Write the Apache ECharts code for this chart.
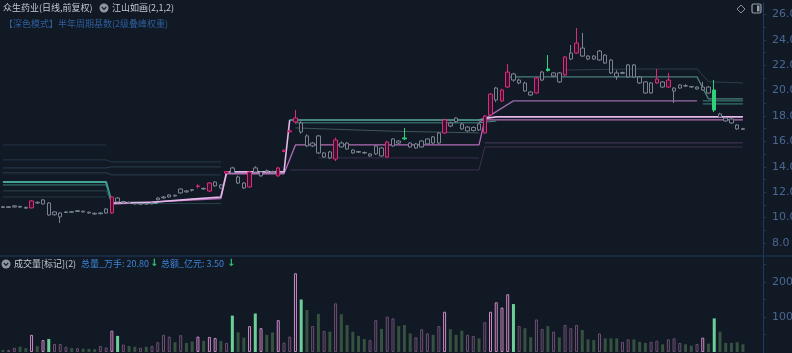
<!DOCTYPE html>
<html><head><meta charset="utf-8">
<script src="https://cdn.jsdelivr.net/npm/echarts@6/dist/echarts.min.js"></script>
<style>html,body{margin:0;padding:0;background:#111925;}#c{width:792px;height:353px;}</style>
</head><body><div id="c"></div>
<script>
// ---------- DATA ----------
const openP = [10.85,10.80,10.83,10.88,10.80,10.76,11.20,11.07,11.15,10.22,
10.05,10.40,10.46,10.48,10.50,10.42,10.34,10.30,10.36,10.36,
11.54,11.20,11.20,11.10,11.05,11.10,11.08,11.40,11.55,11.62,
11.76,11.94,12.10,12.20,12.45,12.30,12.09,12.49,12.57,13.50,
13.91,13.20,12.72,12.41,13.91,13.28,13.70,13.62,13.28,15.20,
16.75,17.53,17.45,16.43,15.64,16.43,14.77,15.17,14.61,15.87,
15.87,15.32,15.20,15.12,14.85,15.01,15.48,14.77,15.64,16.03,
16.27,15.87,15.48,15.56,15.80,16.35,15.87,16.66,17.45,17.84,
17.37,16.82,16.85,17.37,16.66,18.08,19.26,19.18,20.28,21.31,
20.60,20.60,19.89,19.81,20.83,21.70,21.15,21.39,21.23,22.49,
22.96,23.35,22.72,22.72,22.41,22.80,22.41,21.39,21.36,21.07,
22.02,21.07,20.68,19.81,20.60,20.68,20.28,19.97,20.20,20.38,
20.32,20.13,20.05,20.28,20.05,18.16,17.84,17.76,17.29,17.00];
const closeP = [10.80,10.85,10.92,10.82,10.74,11.31,11.15,11.39,10.20,10.44,
10.36,10.44,10.42,10.54,10.44,10.36,10.28,10.36,10.68,11.62,
11.23,11.26,11.15,11.07,11.09,11.06,11.15,11.54,11.62,11.78,
11.70,12.25,12.02,12.15,12.49,12.25,12.72,12.80,12.33,13.62,
13.51,12.72,12.33,13.59,13.59,13.59,13.62,13.56,13.91,15.30,
16.83,17.84,16.74,15.64,15.87,15.09,15.09,14.69,16.11,15.56,
15.40,15.09,15.15,15.09,15.01,15.64,14.85,15.95,16.19,15.87,
16.20,15.56,15.80,16.03,16.19,15.87,16.66,17.69,17.21,17.55,
16.98,17.13,17.10,16.90,18.00,19.73,20.20,20.05,21.46,20.83,
20.83,19.97,19.65,20.99,21.46,21.58,21.39,20.68,22.65,22.96,
23.75,22.72,22.49,22.49,23.12,22.17,21.39,21.10,21.42,22.02,
21.07,20.60,19.81,20.60,20.91,20.28,20.83,20.20,20.44,20.36,
20.28,20.28,20.28,19.81,18.47,17.92,17.61,17.45,16.98,16.95];
const lowP = [10.75,10.75,10.78,10.76,10.70,10.72,11.08,11.02,10.15,10.15,
9.57,10.36,10.38,10.44,10.40,10.32,10.22,10.26,10.32,10.30,
11.18,11.15,11.10,11.02,11.00,11.02,11.04,11.35,11.48,11.58,
11.64,11.88,11.96,12.05,12.30,12.18,12.02,12.44,12.28,13.45,
13.40,12.65,12.25,12.35,13.50,13.22,13.55,13.48,13.22,15.15,
16.70,17.40,16.60,15.55,15.55,15.00,14.70,14.60,14.45,15.50,
15.35,15.02,15.08,15.00,14.80,14.95,14.80,14.70,15.58,15.80,
16.10,15.50,15.42,15.50,15.75,15.80,15.80,16.60,17.12,17.45,
16.90,16.75,16.78,16.82,16.60,18.00,19.10,19.10,20.20,20.70,
20.50,19.90,19.58,19.75,20.75,21.50,21.08,20.60,21.15,22.40,
22.90,22.65,22.40,22.42,22.35,22.10,21.30,20.85,21.30,21.00,
21.00,20.52,19.75,19.75,20.55,20.22,20.22,19.02,20.15,20.30,
20.22,20.08,20.00,19.75,18.31,17.85,17.55,17.40,16.92,16.90];
const highP = [10.92,10.90,10.98,10.92,10.86,11.38,11.28,11.45,11.22,10.48,
10.42,10.50,10.50,10.58,10.54,10.46,10.38,10.40,10.72,11.66,
11.60,11.32,11.25,11.15,11.14,11.14,11.20,11.60,11.70,11.84,
11.80,12.30,12.14,12.22,12.62,12.36,12.80,12.86,12.62,13.62,
14.00,13.30,12.80,13.65,14.05,13.65,13.78,13.70,13.98,15.35,
16.85,18.47,17.60,16.55,15.95,16.50,15.15,15.25,16.30,16.00,
15.95,15.38,15.25,15.20,15.06,15.70,15.55,16.05,16.25,16.10,
17.06,15.95,15.86,16.10,16.25,16.42,16.72,17.80,17.55,17.90,
17.45,17.20,17.18,17.45,18.08,19.80,20.30,20.15,22.09,21.40,
20.95,20.70,19.95,21.05,21.55,22.80,21.45,21.45,22.72,23.59,
24.93,24.54,22.80,22.80,23.20,22.88,22.50,21.60,21.50,22.10,
22.10,21.15,20.75,20.68,21.70,20.75,21.39,20.26,20.50,20.50,
20.36,20.34,20.70,20.35,20.83,18.25,17.90,17.82,17.35,17.06];
// candle marks: n normal, p pink (marked), g green (marked)
const candleKind = ('nnnnnpnnnn'+'nnnnnnnnnp'+'nnnnnnnnnn'+'nnnnpnpnnp'+'nnnpnnnnpp'+
  'ppnnnnnnpn'+'nnnnnnnpnn'+'gnnnnnnpnn'+'nnnnppnppn'+'nnnpngnnpn'+
  'pnnnnnnnnn'+'nnnnpnpnnn'+'nnnngnnnnn').split('');
const volumes = [6,6,12,15,11,49,17,34,37,23,
23,15,11,11,9,9,8,17,13,61,
46,21,17,15,12,15,17,28,49,44,
28,48,26,30,44,32,43,40,32,26,
104,56,41,74,110,68,49,56,91,27,
44,225,150,120,74,109,60,58,139,108,
77,58,46,37,34,91,66,101,96,74,
77,53,42,65,53,49,74,115,65,49,
61,49,46,39,85,115,142,127,165,137,
74,68,42,93,66,74,58,42,77,68,
77,63,36,34,53,39,39,39,29,36,
36,29,26,29,32,22,36,39,26,22,
18,23,41,24,96,58,26,26,28,22];
// volume marks: G bright green, P bright pink outline, n by candle direction
const volKind = ('nnnnnPnPGn'+'nnnnnnnnnP'+'Gnnnnnnnnn'+'nnnnPnPPnn'+'GnnPGPnnPn'+
  'nPGnnnnnnn'+'nnnnnnnnnn'+'nnnnnnnPnn'+'nnnnnPPPPG'+'nnnnnnnnnn'+
  'nnnnnnnnnn'+'nnnnnnnnnn'+'nnPnGnnnnn').split('');
const priceTicks = [8,10,12,14,16,18,20,22,24,26];
const volTicks = [100,200];

// indicator lines: [candle index, price]
const tealA   = [[0,12.80],[18,12.80],[19,11.15],[27,11.15]];
const tealB   = [[0,12.57],[18,12.57],[19,11.20],[27,11.20]];
const dimL1   = [[0,15.72],[18,15.72]];
const dimL2   = [[0,14.54],[18,14.54],[19,14.38],[38,14.38]];
const dimL3   = [[0,13.91],[18,13.91],[19,13.99],[38,13.99]];
const dimL4   = [[0,13.52],[18,13.52],[19,13.36],[38,13.36]];
const dimL5   = [[0,12.10],[18,12.10],[19,11.10],[38,11.10]];
const dimL6   = [[0,11.62],[18,11.62]];
const mainLine= [[19,11.15],[26,11.20],[33,11.45],[38,11.62],[39,13.60],[49,13.60],[50,17.69]];
const tealMid = [[50,17.69],[83,17.69],[85,17.93]];
const mainRight=[[84,17.80],[86,17.93],[129,17.93]];
const pinkB   = [[19,11.05],[38,11.50],[39,13.45],[49,13.45],[51,15.72],[83,15.72],[84,17.69],[129,17.69]];
const tealC   = [[51,17.46],[83,17.46],[86,17.60]];
const greyS   = [[51,17.06],[68,16.80],[83,16.67]];
const dimP1   = [[55,14.70],[83,14.70]];
const dimP2   = [[50,13.75],[83,13.75],[84,15.56],[129,15.56]];
const dimP3   = [[84,15.88],[129,15.88]];
const lilac   = [[83,17.50],[89,19.19],[121,19.19]];
const tealTop = [[88,21.08],[121,21.08],[123,19.35],[129,19.35]];
const tealR1  = [[122,19.19],[129,19.19]];
const tealR2  = [[122,18.95],[129,18.95]];
const faintTop= [[98,21.62],[110,21.70],[121,21.70],[123,20.70],[129,20.60]];

// ---------- CHART ----------
const BG = '#111925';
const SLOTS = 133;
const cats = Array.from({length: SLOTS}, (_, i) => i);
const chart = echarts.init(document.getElementById('c'), null, {width: 792, height: 353});

const candleData = openP.map((o, i) => {
  const k = candleKind[i];
  let s;
  if (k === 'p') s = {color: '#3a1230', color0: '#3a1230', borderColor: '#dc2a7c', borderColor0: '#dc2a7c'};
  else if (k === 'g') s = {color: '#2fd17a', color0: '#2fd17a', borderColor: '#2fd17a', borderColor0: '#2fd17a'};
  else s = {color: BG, color0: '#59616f', borderColor: '#7a8290', borderColor0: '#59616f'};
  return {value: [o, closeP[i], lowP[i], highP[i]], itemStyle: s};
});
const volData = volumes.map((v, i) => {
  const k = volKind[i];
  let s;
  if (k === 'G') s = {color: '#6ccf98', borderColor: '#6ccf98', borderWidth: 0};
  else if (k === 'P') s = {color: '#1c1626', borderColor: '#c98ac4', borderWidth: 1};
  else if (closeP[i] >= openP[i]) s = {color: '#141a26', borderColor: '#6e4f72', borderWidth: 1};
  else s = {color: '#35513f', borderColor: '#35513f', borderWidth: 0};
  return {value: v, itemStyle: s};
});
function ln(data, color, width, z) {
  return {type: 'line', data: data, xAxisIndex: 0, yAxisIndex: 0, symbol: 'none', silent: true,
    lineStyle: {color: color, width: width}, z: z || 2, animation: false};
}
const axisLbl = {color: '#4a6794', fontSize: 11, fontFamily: 'DejaVu Sans', margin: 9};
const option = {
  backgroundColor: BG,
  animation: false,
  grid: [
    {left: 0, width: 763, top: 3, height: 252, outerBoundsMode: 'none', containLabel: false},
    {left: 0, width: 763, top: 256, height: 97, outerBoundsMode: 'none', containLabel: false}
  ],
  xAxis: [
    {type: 'category', data: cats, gridIndex: 0, boundaryGap: true, show: false},
    {type: 'category', data: cats, gridIndex: 1, boundaryGap: true, show: false}
  ],
  yAxis: [
    {type: 'value', gridIndex: 0, position: 'right', min: 7.05, max: 26.9, scale: true,
      splitLine: {show: false},
      axisLine: {show: true, lineStyle: {color: '#1e3a62'}},
      axisTick: {show: true, length: 3, customValues: [8,9,10,11,12,13,14,15,16,17,18,19,20,21,22,23,24,25,26], lineStyle: {color: '#1e3a62'}},
      axisLabel: Object.assign({customValues: priceTicks, formatter: v => v.toFixed(1)}, axisLbl)},
    {type: 'value', gridIndex: 1, position: 'right', min: -2.86, max: 274.3,
      splitLine: {show: false},
      axisLine: {show: true, lineStyle: {color: '#1e3a62'}},
      axisTick: {show: true, length: 3, customValues: [50,100,150,200,250], lineStyle: {color: '#1e3a62'}},
      axisLabel: Object.assign({customValues: volTicks, formatter: v => v.toFixed(2)}, axisLbl)}
  ],
  series: [
    ln(dimL1, '#243345', 1), ln(dimL2, '#27384a', 1), ln(dimL3, '#2b3d50', 1), ln(dimL4, '#2b3d50', 1),
    ln(dimL5, '#284448', 1), ln(dimL6, '#263b44', 1),
    ln(tealA, '#43a394', 2, 3), ln(tealB, '#3a8279', 1, 3),
    ln(dimP1, '#3a2e4c', 1), ln(dimP2, '#3e3050', 1), ln(dimP3, '#4b3a5e', 1),
    ln(greyS, '#3c5658', 1), ln(tealC, '#3f8a84', 1, 3),
    ln(faintTop, '#2e3d4c', 1), ln(lilac, '#9a6aa8', 1.3, 3),
    ln(tealTop, '#4c7e7c', 1.3, 3), ln(tealR1, '#3b8a7c', 1, 3), ln(tealR2, '#3b8a7c', 1, 3),
    ln(pinkB, '#b26cb4', 1.3, 4), ln(mainLine, '#e6b8ea', 1.6, 5),
    ln(tealMid, '#5aa89e', 1.5, 5), ln(mainRight, '#e6b8ea', 1.6, 5),
    {type: 'candlestick', xAxisIndex: 0, yAxisIndex: 0, data: candleData, barWidth: 4, z: 6,
      itemStyle: {borderWidth: 1}},
    {type: 'bar', xAxisIndex: 1, yAxisIndex: 1, data: volData, barWidth: 3}
  ],
  graphic: [
    {type: 'line', shape: {x1: 0, y1: 256, x2: 792, y2: 256}, style: {stroke: '#1e3a62', lineWidth: 1}, silent: true},
    {type: 'text', left: 3, top: 3, style: {text: '众生药业(日线,前复权)', fill: '#c4c8d0', font: '9px "Noto Sans CJK SC"'}},
    {type: 'circle', shape: {cx: 104, cy: 8, r: 4.5}, style: {fill: '#8f96a2'}},
    {type: 'polyline', shape: {points: [[101.8, 7], [104, 9.3], [106.2, 7]]}, style: {stroke: '#141b27', lineWidth: 1.2, fill: null}},
    {type: 'text', left: 112, top: 3, style: {text: '江山如画(2,1,2)', fill: '#c4c8d0', font: '9px "Noto Sans CJK SC"'}},
    {type: 'text', left: 4, top: 19, style: {text: '【深色模式】半年周期基数(2级叠峰权重)', fill: '#2c5f9e', font: '9px "Noto Sans CJK SC"'}},
    {type: 'circle', shape: {cx: 6, cy: 264, r: 4.5}, style: {fill: '#8f96a2'}},
    {type: 'polyline', shape: {points: [[3.8, 263], [6, 265.3], [8.2, 263]]}, style: {stroke: '#141b27', lineWidth: 1.2, fill: null}},
    {type: 'text', left: 14, top: 259, style: {text: '成交量[标记](2)', fill: '#c4c8d0', font: '9px "Noto Sans CJK SC"'}},
    {type: 'text', left: 81, top: 259, style: {text: '总量_万手: 20.80', fill: '#3b86d6', font: '9px "Noto Sans CJK SC"'}},
    {type: 'text', left: 150, top: 258, style: {text: '↓', fill: '#2fc46e', font: 'bold 10px "DejaVu Sans"'}},
    {type: 'text', left: 161, top: 259, style: {text: '总额_亿元: 3.50', fill: '#3b86d6', font: '9px "Noto Sans CJK SC"'}},
    {type: 'text', left: 227, top: 258, style: {text: '↓', fill: '#2fc46e', font: 'bold 10px "DejaVu Sans"'}},
    {type: 'polygon', shape: {points: [[741, 5], [745, 9], [741, 13], [737, 9]]}, style: {fill: null, stroke: '#8a909a', lineWidth: 1}},
    {type: 'rect', shape: {x: 752, y: 4, width: 9, height: 9, r: 1.5}, style: {fill: null, stroke: '#9aa0aa', lineWidth: 1.2}},
    {type: 'rect', shape: {x: 757, y: 5.5, width: 2.5, height: 6}, style: {fill: '#9aa0aa'}}
  ]
};
chart.setOption(option);
</script>
</body></html>
